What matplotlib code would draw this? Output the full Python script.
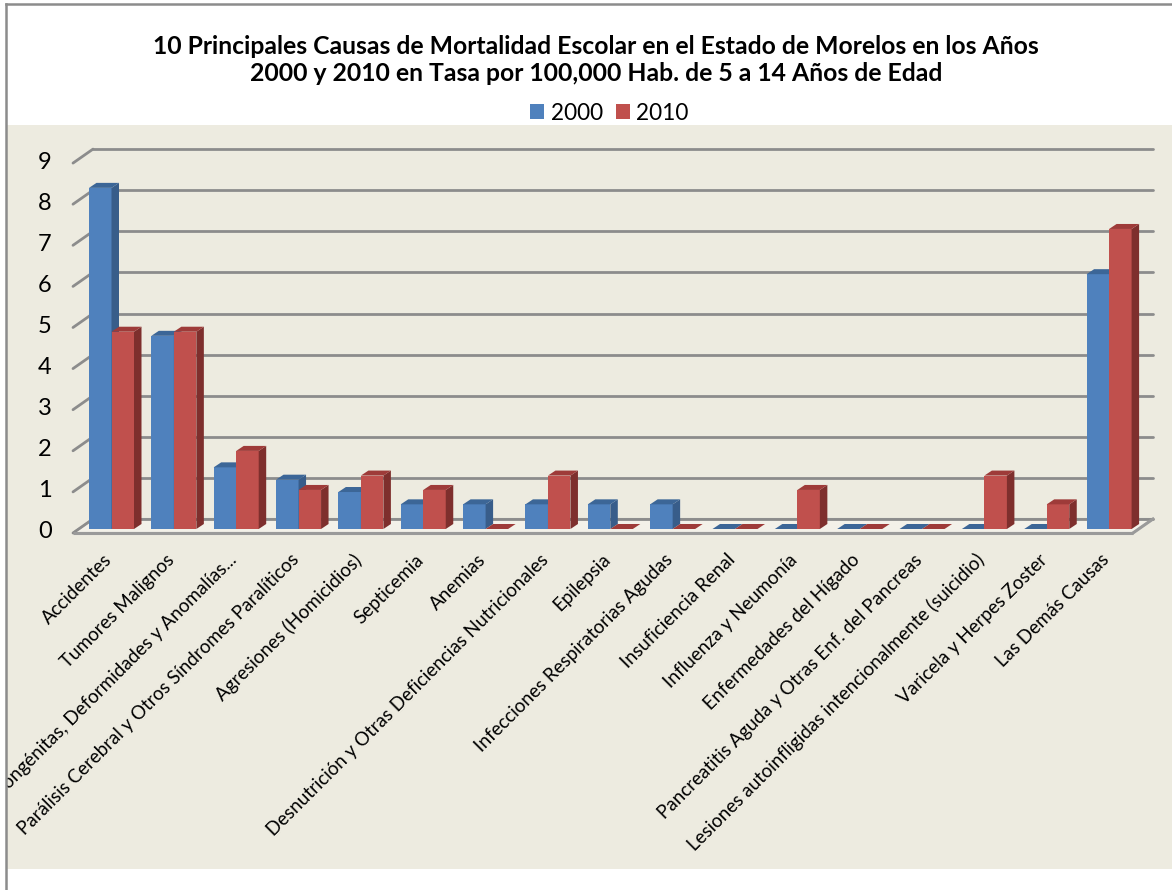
import matplotlib
matplotlib.use("Agg")
import matplotlib.pyplot as plt
from matplotlib.patches import Polygon, Patch
from matplotlib.lines import Line2D

plt.rcParams['font.family'] = ['Lato', 'DejaVu Sans']

# ---- data -------------------------------------------------------------
categories = [
    "Accidentes",
    "Tumores Malignos",
    "Malformaciones Congénitas, Deformidades y Anomalías...",
    "Parálisis Cerebral y Otros Síndromes Paralíticos",
    "Agresiones (Homicidios)",
    "Septicemia",
    "Anemias",
    "Desnutrición y Otras Deficiencias Nutricionales",
    "Epilepsia",
    "Infecciones Respiratorias Agudas",
    "Insuficiencia Renal",
    "Influenza y Neumonía",
    "Enfermedades del Hígado",
    "Pancreatitis Aguda y Otras Enf. del Pancreas",
    "Lesiones autoinfligidas intencionalmente (suicidio)",
    "Varicela y Herpes Zoster",
    "Las Demás Causas",
]
rate_2000 = [8.3, 4.7, 1.5, 1.2, 0.9, 0.6, 0.6, 0.6, 0.6, 0.6, 0.0, 0.0, 0.0, 0.0, 0.0, 0.0, 6.2]
rate_2010 = [4.8, 4.8, 1.9, 0.95, 1.3, 0.95, 0.0, 1.3, 0.0, 0.0, 0.0, 0.95, 0.0, 0.0, 1.3, 0.6, 7.3]
series_labels = ["2000", "2010"]
y_ticks = list(range(0, 10))
title = ("10 Principales Causas de Mortalidad Escolar en el Estado de Morelos en los Años\n"
         "2000 y 2010 en Tasa por 100,000 Hab. de 5 a 14 Años de Edad")

# ---- colours ----------------------------------------------------------
BG = "#EDEBE0"
GRID = "#8C8C8C"
BLUE, BLUE_SIDE, BLUE_TOP = "#4F81BD", "#385D8A", "#3C6697"
RED, RED_SIDE, RED_TOP = "#C0504D", "#7E2F2D", "#9E3B39"

# ---- figure / axes geometry (pixels) ---------------------------------
W, H = 1172, 890
fig = plt.figure(figsize=(W / 100, H / 100), dpi=100)
fig.patch.set_facecolor("white")

# plot area rectangle in pixels (from top-left)
pa_left, pa_top, pa_right, pa_bottom = 7, 125, 1172, 869
ax = fig.add_axes([pa_left / W, 1 - pa_bottom / H,
                   (pa_right - pa_left) / W, (pa_bottom - pa_top) / H])
ax.set_facecolor(BG)

# data scale: one category per SX px, one unit per SY px
X0, Y0 = 73.0, 529.0     # pixel of data (0, 0)
SX, SY = 62.35, 41.1
ax.set_xlim((pa_left - X0) / SX, (pa_right - X0) / SX)
ax.set_ylim((Y0 - pa_bottom) / SY, (Y0 - pa_top) / SY)
for s in ax.spines.values():
    s.set_visible(False)
ax.set_xticks([])
ax.set_yticks([])

n = len(categories)
# depth of the back wall and of the bars, in data units
DX, DY = 20 / SX, 14 / SY
BDX, BDY = 7.5 / SX, 5 / SY
FRONT = -4 / SY           # front plane sits slightly below the bar base

# floor slab
floor = Polygon([(0, FRONT), (n, FRONT), (n + DX, FRONT + DY), (DX, FRONT + DY)],
                closed=True, facecolor="#F3F1E9", edgecolor="#A6A6A6", lw=1.5, zorder=1)
ax.add_patch(floor)
ax.plot([0, n], [FRONT, FRONT], color="#9A9A9A", lw=2.2, zorder=1.2, solid_capstyle="butt")
ax.plot([n, n + DX], [FRONT, FRONT + DY], color="#9A9A9A", lw=2.2, zorder=1.2)

# back-wall gridlines and left-wall tick diagonals
for v in y_ticks:
    yb = v + FRONT + DY
    ax.plot([DX, n + DX], [yb, yb], color=GRID, lw=2.0, zorder=1.1, solid_capstyle="round")
    ax.plot([0, DX], [v + FRONT, yb], color=GRID, lw=2.0, zorder=1.1, solid_capstyle="round")
    ax.text(-28 / SX, v + FRONT + 1 / SY, str(v), ha="center", va="center",
            fontsize=17, color="black")

# bars
bar_w = 22.5 / SX
off_blue = 16 / SX
xs = list(range(n))
blue_x = [i + off_blue for i in xs]
red_x = [i + off_blue + bar_w for i in xs]


def draw_series(xpos, vals, front, side, top):
    ax.bar(xpos, vals, width=bar_w, align="edge", color=front, edgecolor="none", zorder=3)
    for x, v in zip(xpos, vals):
        ax.add_patch(Polygon([(x + bar_w, 0), (x + bar_w + BDX, BDY),
                              (x + bar_w + BDX, v + BDY), (x + bar_w, v)],
                             closed=True, facecolor=side, edgecolor="none", zorder=3))
        ax.add_patch(Polygon([(x, v), (x + BDX, v + BDY), (x + bar_w + BDX, v + BDY),
                              (x + bar_w, v)],
                             closed=True, facecolor=top, edgecolor="none", zorder=3))


for i in xs:
    draw_series([blue_x[i]], [rate_2000[i]], BLUE, BLUE_SIDE, BLUE_TOP)
    draw_series([red_x[i]], [rate_2010[i]], RED, RED_SIDE, RED_TOP)

# category labels, rotated 45 degrees, right end under each bar pair
lab_off = (109 - X0) / SX
for i, name in enumerate(categories):
    xp = i + lab_off
    yp = (Y0 - 557) / SY
    ax.text(xp, yp, name, rotation=45, rotation_mode="anchor", ha="right", va="center",
            fontsize=13.5, color="black", zorder=5, clip_on=True)

# title and legend
fig.text(596 / W, 1 - 60 / H, title, ha="center", va="center", fontsize=17.8,
         fontweight="bold", linespacing=1.2)
handles = [Patch(facecolor=BLUE, edgecolor="none"), Patch(facecolor=RED, edgecolor="none")]
fig.legend(handles, series_labels, loc="center", bbox_to_anchor=(609.5 / W, 1 - 113 / H),
           ncol=2, frameon=False, fontsize=16.3, handlelength=0.62, handleheight=0.62,
           handletextpad=0.3, columnspacing=0.55, borderpad=0)

# outer chart border (left and top edges)
fig.add_artist(Line2D([5.5 / W, 5.5 / W], [0, 1 - 4 / H], color="#8C8C8C", lw=1.8,
                      transform=fig.transFigure))
fig.add_artist(Line2D([5.5 / W, 1], [1 - 4 / H, 1 - 4 / H], color="#8C8C8C", lw=1.8,
                      transform=fig.transFigure))

fig.savefig("out.png", dpi=100)
